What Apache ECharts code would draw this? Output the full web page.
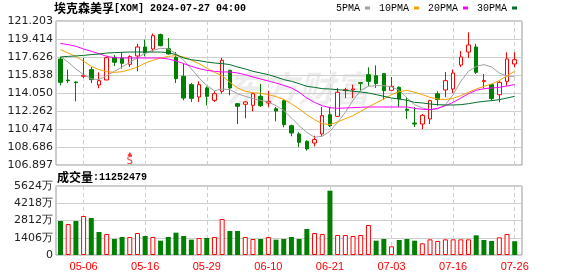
<!DOCTYPE html>
<html><head><meta charset="utf-8">
<script src="https://cdn.jsdelivr.net/npm/echarts@6/dist/echarts.min.js"></script>
<style>html,body{margin:0;padding:0;background:#fff}#c{width:578px;height:276px}</style>
</head><body><div id="c"></div>
<script>
const dates = ['05-01','05-02','05-03','05-06','05-07','05-08','05-09','05-10','05-13','05-14',
 '05-15','05-16','05-17','05-20','05-21','05-22','05-23','05-24','05-28','05-29',
 '05-30','05-31','06-03','06-04','06-05','06-06','06-07','06-10','06-11','06-12',
 '06-13','06-14','06-17','06-18','06-20','06-21','06-24','06-25','06-26','06-27',
 '06-28','07-01','07-02','07-03','07-05','07-08','07-09','07-10','07-11','07-12',
 '07-15','07-16','07-17','07-18','07-19','07-22','07-23','07-24','07-25','07-26'];
const openP = [117.43,115.34,115.14,115.71,116.37,114.85,115.34,117.59,117.53,116.90,
 117.73,118.62,118.42,119.85,118.45,117.59,115.71,114.88,113.65,114.55,
 113.32,114.22,116.30,112.99,112.93,112.83,113.72,113.06,112.49,113.29,
 110.80,109.98,109.25,109.08,109.98,111.90,111.73,114.28,114.35,115.08,
 115.87,115.77,115.97,114.32,114.61,112.43,111.07,110.97,111.47,113.98,
 114.35,114.45,116.83,118.12,118.62,115.18,114.88,113.88,115.21,116.93];
const closeP = [115.11,115.27,115.08,115.81,115.38,115.28,117.56,117.10,117.00,117.69,
 118.62,118.02,119.75,118.75,117.93,115.47,113.55,113.52,114.88,113.72,
 113.98,117.30,114.55,112.73,113.16,113.98,112.79,113.22,112.26,110.90,
 110.08,109.15,108.49,109.42,111.80,110.80,114.12,114.38,114.45,115.01,
 115.21,114.98,114.28,114.71,113.45,112.33,110.97,111.83,113.29,113.39,
 115.28,116.04,117.63,118.82,116.10,115.28,113.49,115.11,117.43,117.36];
const lowP = [114.81,115.04,113.22,115.54,115.04,114.52,115.34,116.73,116.47,116.63,
 116.20,117.69,118.16,118.69,117.86,115.04,113.32,113.16,113.16,112.83,
 113.16,113.98,113.82,110.97,111.54,112.23,112.66,112.66,111.24,110.64,
 109.75,108.69,108.32,108.75,109.75,110.67,111.67,113.55,113.55,114.22,
 114.71,114.55,113.39,114.32,112.66,111.47,110.67,110.47,110.97,112.79,
 113.65,114.05,116.63,117.53,115.94,114.55,113.29,113.12,114.78,116.60];
const highP = [117.63,116.37,115.21,117.53,116.63,116.10,117.63,117.83,118.12,117.79,
 118.95,119.35,119.95,119.95,119.51,118.12,116.97,115.04,115.21,114.71,
 114.22,117.53,116.37,113.06,113.26,114.05,114.95,114.28,112.66,113.39,
 110.90,110.18,109.35,109.81,112.66,112.63,114.55,114.55,114.88,115.11,
 116.60,116.80,116.04,115.64,114.71,113.62,112.66,111.96,113.39,114.22,
 116.14,116.37,118.22,120.08,118.92,115.94,114.95,115.21,118.09,118.09];
const ma5 = [117.69,117.10,116.44,115.87,115.47,115.38,115.77,116.20,116.63,117.10,
 117.53,118.02,118.29,118.49,118.42,117.96,117.30,116.44,115.54,114.78,
 114.28,114.45,114.38,113.98,113.72,113.49,113.32,113.16,112.79,112.33,
 111.57,110.81,110.14,109.65,109.75,110.24,111.14,112.13,113.32,114.32,
 114.71,114.78,114.78,114.65,114.32,113.55,112.89,112.56,112.40,112.46,
 112.89,113.89,115.21,116.20,116.70,116.87,116.63,116.04,115.71,115.71];
const ma10 = [118.36,118.02,117.69,117.20,116.70,116.37,116.17,116.10,116.17,116.37,
 116.63,117.03,117.30,117.53,117.69,117.76,117.63,117.30,116.97,116.53,
 116.10,115.77,115.11,114.55,114.22,114.08,114.02,113.89,113.69,113.42,
 112.99,112.46,111.90,111.40,111.00,110.91,111.17,111.50,111.80,112.23,
 112.66,113.06,113.46,113.89,114.18,114.32,114.12,113.89,113.62,113.46,
 113.39,113.52,113.79,114.12,114.45,114.71,114.95,115.28,115.77,116.20];
const ma20 = [118.98,118.85,118.69,118.42,118.19,117.96,117.69,117.56,117.53,117.53,
 117.53,117.53,117.53,117.53,117.43,117.23,116.97,116.70,116.47,116.30,
 116.20,116.14,116.14,116.04,115.87,115.64,115.44,115.24,115.04,114.81,
 114.55,114.12,113.55,113.12,112.79,112.59,112.53,112.56,112.59,112.63,
 112.66,112.66,112.66,112.66,112.66,112.66,112.53,112.43,112.40,112.53,
 112.79,113.12,113.55,113.98,114.32,114.48,114.55,114.61,114.75,114.88];
const ma30 = [117.63,117.69,117.73,117.79,117.86,117.92,118.02,118.06,118.09,118.12,
 118.12,118.12,118.12,118.12,118.06,117.86,117.53,117.36,117.26,117.13,
 117.03,116.97,116.87,116.63,116.44,116.20,116.04,115.87,115.64,115.38,
 115.21,114.98,114.71,114.61,114.48,114.45,114.38,114.32,114.22,114.15,
 114.05,113.89,113.72,113.55,113.46,113.32,113.12,113.06,112.96,112.89,
 112.86,112.86,112.89,112.99,113.12,113.22,113.29,113.39,113.55,113.72];
const volume = [2771,2527,2771,3179,3016,1875,1712,1304,1467,1467,
 1793,1549,1467,1168,1467,1820,1549,1250,1386,1386,
 1467,2934,1956,1956,1467,1304,1304,1467,1250,1304,
 1467,1304,2119,1793,1712,5244,1630,1630,1549,1630,
 2445,1168,1304,706,1223,1304,1168,951,1277,1141,
 1277,1277,1277,1277,1603,1223,1141,1440,1712,1125];
const priceTicks = ['106.897','108.686','110.474','112.262','114.050','115.838','117.626','119.414','121.203'];
const priceMin = 106.897, priceMax = 121.203;
const volTicks = ['0','1406万','2812万','4218万','5624万'];
const volMax = 5624;
const seriesNames = ['5PMA','10PMA','20PMA','30PMA'];
const titleName = '埃克森美孚', titleCode = '[XOM] 2024-07-27 04:00';
const volTitle = '成交量', volLast = ':11252479';
const signalIndex = 9, signalPrice = 108.0, signalText = 'S';

const RED = '#ff0000', GREEN = '#008000';
const showIdx = (i) => i % 8 === 3;

const candleData = dates.map((d, i) => [openP[i], closeP[i], lowP[i], highP[i]]);
const volData = volume.map((v, i) => {
  const up = i === 0 ? closeP[i] >= openP[i] : closeP[i] >= closeP[i - 1];
  return { value: v, itemStyle: up ? { color: '#fff', borderColor: RED, borderWidth: 1 } : { color: GREEN } };
});

const chart = echarts.init(document.getElementById('c'), null, { renderer: 'canvas' });
const frameY = (labels, n) => ({
  type: 'value', min: 0, max: n, interval: 1,
  axisLine: { show: false }, axisTick: { show: false },
  splitLine: { show: true, lineStyle: { color: '#cfcfcf', width: 1 } },
  axisLabel: { formatter: (v) => labels[Math.round(v)], color: '#222', fontSize: 11, fontFamily: 'DejaVu Sans', margin: 3 }
});
const maColors = ['#a0a0a0', '#f5a200', '#ff00ff', '#00702a'];
const maData = [ma5, ma10, ma20, ma30];

chart.setOption({
  animation: false,
  backgroundColor: '#fff',
  title: [
    { text: '{a|' + titleName + '}{b|' + titleCode + '}', left: 54, top: 2, padding: 0,
      textStyle: { rich: { a: { fontFamily: 'Noto Sans CJK SC', fontSize: 12, color: '#000' }, b: { fontFamily: 'Liberation Mono', fontSize: 10, color: '#000' } } } },
    { text: '{a|' + volTitle + '}{b|' + volLast + '}', left: 57, top: 171, padding: 0,
      textStyle: { rich: { a: { fontFamily: 'Noto Sans CJK SC', fontSize: 12, color: '#000' }, b: { fontFamily: 'Liberation Mono', fontSize: 10, color: '#000' } } } }
  ],
  legend: {
    data: seriesNames, left: 336, top: 3, itemWidth: 5, itemHeight: 3, itemGap: 9, align: 'right',
    icon: 'rect', selectedMode: false, padding: 0,
    textStyle: { fontFamily: 'Liberation Mono', fontSize: 10, color: '#000' }
  },
  graphic: [
    { type: 'text', left: 226, top: 70, z: 0, silent: true,
      style: { text: '东方财富', font: 'italic bold 36px "Noto Sans CJK SC"', fill: 'rgba(0,0,0,0.07)' } }
  ],
  grid: [
    { left: 56, top: 21, width: 466, height: 144, show: true, borderColor: '#999', borderWidth: 1, backgroundColor: 'transparent' },
    { left: 56, top: 186, width: 466, height: 69, show: true, borderColor: '#999', borderWidth: 1, backgroundColor: 'transparent' },
    { left: 60.5, top: 21, width: 454.2, height: 144 },
    { left: 60.5, top: 186, width: 454.2, height: 69 }
  ],
  xAxis: [
    { gridIndex: 0, type: 'value', min: 0, max: 1, show: false },
    { gridIndex: 1, type: 'value', min: 0, max: 1, show: false },
    { gridIndex: 2, type: 'category', data: dates, boundaryGap: false,
      axisLine: { show: false }, axisTick: { show: false }, axisLabel: { show: false },
      splitLine: { show: true, interval: (i) => showIdx(i), lineStyle: { color: '#cfcfcf', type: [4, 3] } } },
    { gridIndex: 3, type: 'category', data: dates, boundaryGap: false,
      axisLine: { show: false }, axisTick: { show: false },
      axisLabel: { show: true, interval: (i) => showIdx(i), color: RED, fontSize: 11, fontFamily: 'Liberation Sans', margin: 6 },
      splitLine: { show: true, interval: (i) => showIdx(i), lineStyle: { color: '#cfcfcf', type: [4, 3] } } }
  ],
  yAxis: [
    Object.assign({ gridIndex: 0 }, frameY(priceTicks, 8)),
    Object.assign({ gridIndex: 1 }, frameY(volTicks, 4)),
    { gridIndex: 2, type: 'value', min: priceMin, max: priceMax, show: false, splitLine: { show: false } },
    { gridIndex: 3, type: 'value', min: 0, max: volMax, show: false, splitLine: { show: false } }
  ],
  series: [
    { type: 'candlestick', xAxisIndex: 2, yAxisIndex: 2, data: candleData, barWidth: 4, clip: false, z: 3,
      itemStyle: { color: '#fff', color0: GREEN, borderColor: RED, borderColor0: GREEN, borderWidth: 1 } },
    ...seriesNames.map((n, k) => ({
      name: n, type: 'line', xAxisIndex: 2, yAxisIndex: 2, data: maData[k], showSymbol: false, symbol: 'none',
      z: 4, clip: false, lineStyle: { width: 1, color: maColors[k] }, itemStyle: { color: maColors[k] }
    })),
    { type: 'scatter', xAxisIndex: 2, yAxisIndex: 2, z: 5, silent: true,
      data: [[signalIndex, signalPrice]], symbol: 'triangle', symbolSize: [5, 4],
      itemStyle: { color: RED },
      label: { show: true, position: 'bottom', distance: 0, formatter: signalText, color: RED, fontSize: 11, fontFamily: 'DejaVu Sans Mono' } },
    { type: 'bar', xAxisIndex: 3, yAxisIndex: 3, data: volData, barWidth: 5, clip: false, z: 3 }
  ]
});
</script></body></html>
